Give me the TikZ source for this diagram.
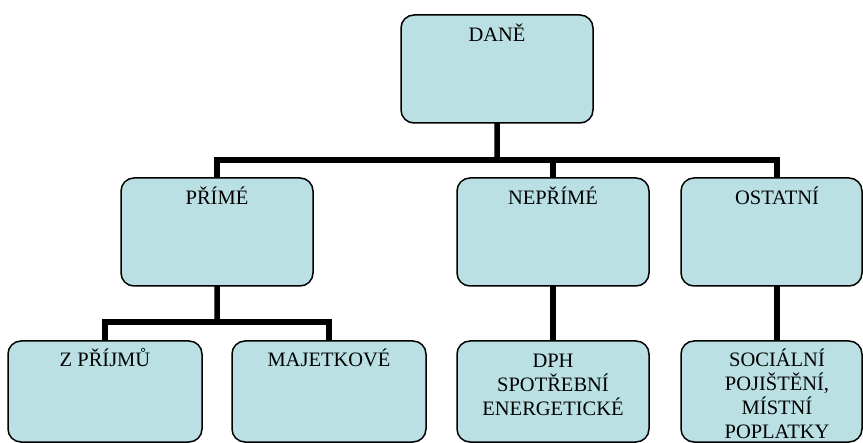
\documentclass[tikz,border=0pt]{standalone}
\usepackage{fontspec}
\setmainfont{Liberation Serif}
\definecolor{boxfill}{RGB}{186,224,227}
\begin{document}
\begin{tikzpicture}[x=1bp,y=-1bp,
  box/.style={draw=black, line width=1.5bp, fill=boxfill, rounded corners=13bp, inner sep=0pt, outer sep=0pt, anchor=north west},
  lbl/.style={anchor=base, align=center, inner sep=0pt, font=\fontsize{20.5bp}{24bp}\selectfont},
  conn/.style={line width=5.5bp, line cap=butt, line join=miter}]
\useasboundingbox (0,0) rectangle (863,443);
% boxes
\node[box, minimum width=192bp, minimum height=108bp] (dane) at (401,15) {};
\node[box, minimum width=192bp, minimum height=108bp] (prime) at (121,178) {};
\node[box, minimum width=192bp, minimum height=108bp] (neprime) at (457,178) {};
\node[box, minimum width=181bp, minimum height=108bp] (ostatni) at (681,178) {};
\node[box, minimum width=194bp, minimum height=101bp] (zprijmu) at (8,341) {};
\node[box, minimum width=194bp, minimum height=101bp] (majet) at (232,341) {};
\node[box, minimum width=192bp, minimum height=101bp] (dph) at (457,341) {};
\node[box, minimum width=181bp, minimum height=101bp] (social) at (681,341) {};
% labels (base anchor = last line's baseline)
\node[lbl] (tdane) at (497,42) {DANĚ};
\node[lbl] (tprime) at (217,205) {PŘÍMÉ};
\node[lbl] (tneprime) at (553,205) {NEPŘÍMÉ};
\node[lbl] (tostatni) at (777,205) {OSTATNÍ};
\node[lbl] (tzprijmu) at (105,367) {Z PŘÍJMŮ};
\node[lbl] (tmajet) at (329,367) {MAJETKOVÉ};
\node[lbl] (tdph) at (553,415) {DPH\\SPOTŘEBNÍ\\ENERGETICKÉ};
\node[lbl] (tsocial) at (777,438.5) {SOCIÁLNÍ\\POJIŠTĚNÍ,\\MÍSTNÍ\\POPLATKY};
% connectors
\coordinate (bus) at (497,160);
\coordinate (bus2) at (217,322);
\draw[conn] (dane.south) -- (bus);
\draw[conn] (prime.north) |- (bus) -- (tostatni |- bus) -- (tostatni |- ostatni.north);
\draw[conn] (neprime.north) -- (neprime.north |- bus);
\draw[conn] (prime.south) -- (bus2);
\draw[conn] (zprijmu.north) |- (bus2) -| (majet.north);
\draw[conn] (neprime.south) -- (dph.north);
\draw[conn] (tostatni |- ostatni.south) -- (tostatni |- social.north);
\end{tikzpicture}
\end{document}
